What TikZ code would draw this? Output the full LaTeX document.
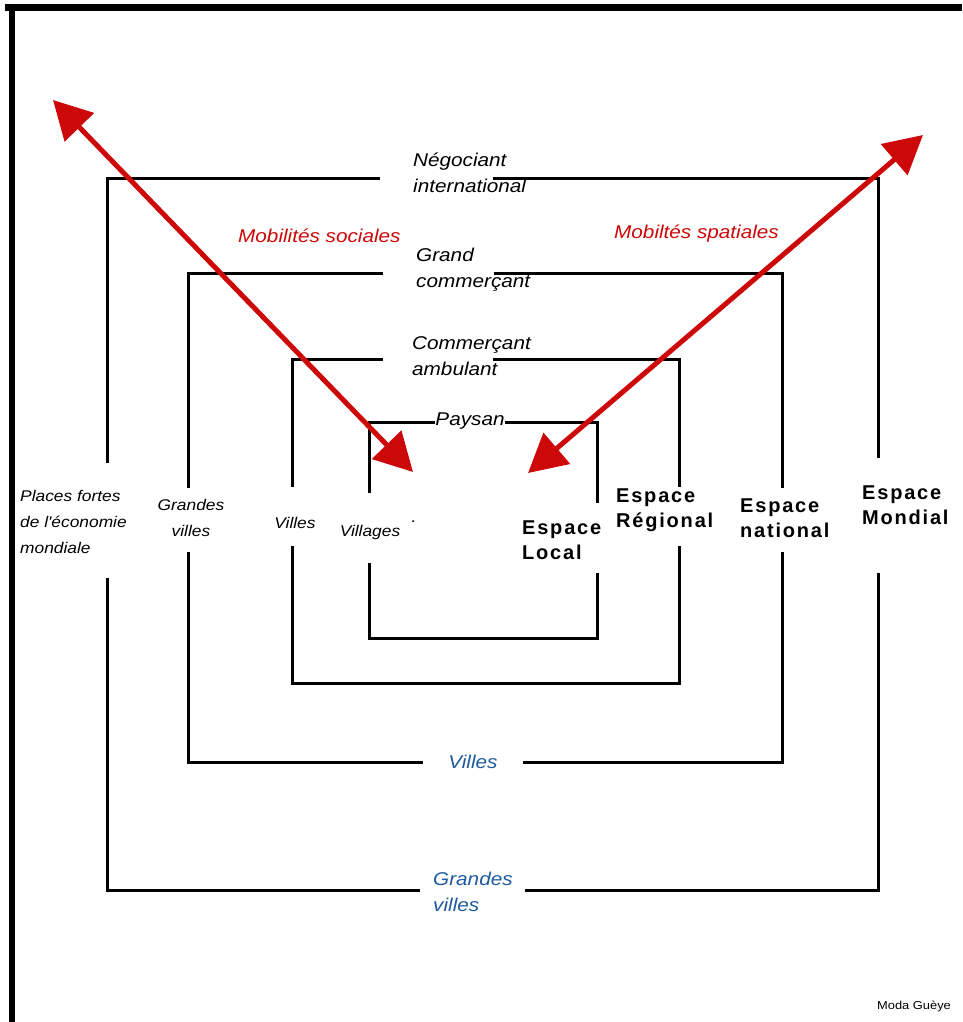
\documentclass[tikz,border=0pt]{standalone}
\usepackage{fontspec}
\setmainfont{Liberation Sans}
\newfontfamily\labfont[FakeStretch=1.12]{Liberation Sans}
\newfontfamily\espfont[LetterSpace=9]{Liberation Sans}
\usepackage{xcolor}
\usetikzlibrary{arrows.meta}
\definecolor{mobred}{RGB}{204,8,8}
\definecolor{villeblue}{RGB}{30,90,160}

\begin{document}
\begin{tikzpicture}[x=1pt, y=-1pt,
wall/.style = {draw, line width=3pt, line join=miter},
lab/.style = {inner sep=0pt, align=left, font=\labfont\itshape\fontsize{18.5}{26}\selectfont},
smalllab/.style = {inner sep=0pt, align=left, font=\labfont\itshape\fontsize{15.5}{26}\selectfont},
espace/.style = {inner sep=0pt, align=left, font=\espfont\bfseries\fontsize{20}{25}\selectfont},
mob/.style = {lab, text=mobred},
ville/.style = {lab, text=villeblue},
mobarrow/.style = {draw=mobred, line width=5pt},
>=Triangle
]

    \useasboundingbox (0,0) rectangle (962,1022);

    % frame
    \draw[line width=7pt] (5,7.5) -- (962,7.5);
    \draw[line width=6pt] (12,4) -- (12,1022);

    % spaces, outer to inner
    \draw[wall] (107,463) -- (107,178) -- (380,178);
    \draw[wall] (493,178) -- (878,178) -- (878,458);
    \draw[wall] (878,573) -- (878,890) -- (525,890);
    \draw[wall] (420,890) -- (107,890) -- (107,578);

    \draw[wall] (188,488) -- (188,273) -- (383,273);
    \draw[wall] (494,273) -- (782,273) -- (782,488);
    \draw[wall] (782,552) -- (782,762) -- (523,762);
    \draw[wall] (423,762) -- (188,762) -- (188,552);

    \draw[wall] (292,487) -- (292,359) -- (383,359);
    \draw[wall] (493,359) -- (679,359) -- (679,487);
    \draw[wall] (679,546) -- (679,683) -- (292,683) -- (292,546);

    \draw[wall] (369,493) -- (369,422) -- (435,422);
    \draw[wall] (505,422) -- (597,422) -- (597,503);
    \draw[wall] (597,573) -- (597,638) -- (369,638) -- (369,563);

    % actors
    \node[lab, anchor=west] (neg) at (413,173) {Négociant\\international};
    \node[lab, anchor=west] (gcom) at (416,270) {Grand\\commerçant};
    \node[lab, anchor=west] (camb) at (412,356) {Commerçant\\ambulant};
    \node[lab] (pays) at (470,421) {Paysan};

    % places
    \node[smalllab, anchor=west] (places) at (20,522) {Places fortes\\ de l'économie\\ mondiale};
    \node[smalllab, align=center] (gvil) at (191,518) {Grandes\\villes};
    \node[smalllab] (vil) at (295,523) {Villes};
    \node[smalllab] (vlg) at (370,532) {Villages};
    \node[smalllab] (dot) at (414,522) {.};

    \node[espace, anchor=west] (loc) at (522,540) {Espace\\Local};
    \node[espace, anchor=west] (reg) at (616,510) {Espace\\Régional};
    \node[espace, anchor=west] (nat) at (740,518) {Espace\\national};
    \node[espace, anchor=west] (mond) at (862,505) {Espace\\Mondial};

    \node[ville] (bvil) at (473,762) {Villes};
    \node[ville, anchor=west] (bgra) at (433,892) {Grandes\\villes};

    \node[mob, anchor=west] (msoc) at (238,236) {Mobilités sociales};
    \node[mob, anchor=west] (mspa) at (614,234) {Mobiltés spatiales};

    \node[inner sep=0pt, font=\labfont\fontsize{11.5}{13}\selectfont] (moda) at (914,1006) {Moda Guèye};

    % mobilities
    \coordinate (soctop) at (53,100);
    \coordinate (socbot) at (413,472);
    \coordinate (spabot) at (528,473);
    \coordinate (spatop) at (923,135);

    \draw[mobarrow, {Triangle[length=38pt,width=40pt]}-{Triangle[length=38pt,width=40pt]}] (soctop) -- (socbot);
    \draw[mobarrow, {Triangle[length=38pt,width=40pt]}-{Triangle[length=38pt,width=40pt]}] (spabot) -- (spatop);

\end{tikzpicture}
\end{document}
